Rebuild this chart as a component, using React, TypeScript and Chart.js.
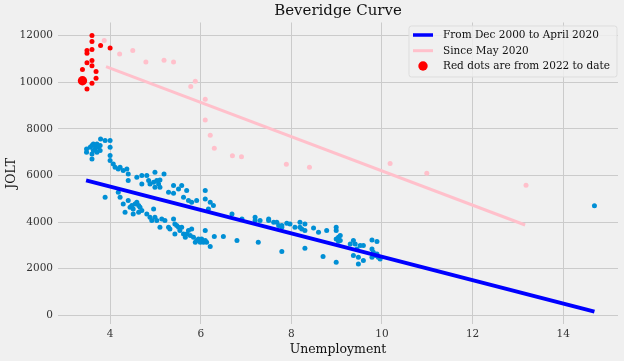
import React, { useEffect, useRef } from "react";
import { Chart, registerables } from "chart.js";

Chart.register(...registerables);

const FONT = '"DejaVu Serif", serif';

const chartTitle = "Beveridge Curve";
const xLabel = "Unemployment";
const yLabel = "JOLT";
const legendLabels = ["From Dec 2000 to April 2020", "Since May 2020", "Red dots are from 2022 to date"];

const xTicks = [4, 6, 8, 10, 12, 14];
const yTicks = [0, 2000, 4000, 6000, 8000, 10000, 12000];

// Dec 2000 - April 2020 (unemployment %, job openings thousands)
const blueDots: [number, number][] = [
  [3.48, 7139], [3.48, 6996], [3.56, 7210], [3.6, 7282], [3.63, 7353], [3.67, 7282], [3.71, 7353],
  [3.74, 7210], [3.78, 7067], [3.78, 7282], [3.67, 7139], [3.63, 7067], [3.6, 6924], [3.6, 6710],
  [3.71, 6996], [3.79, 7567], [3.89, 7496], [4.0, 7496], [4.0, 7210], [4.0, 6853], [4.0, 6638],
  [4.07, 6495], [4.11, 6352], [4.18, 6281], [4.22, 6352], [4.29, 6209], [4.37, 6281], [4.4, 6066],
  [4.4, 5780], [4.59, 5923], [4.7, 5995], [4.7, 5637], [4.81, 5995], [4.85, 5780], [4.88, 5637],
  [4.96, 5708], [4.99, 6138], [5.03, 5780], [5.07, 5637], [5.1, 5494], [4.99, 5494], [5.1, 5808],
  [5.19, 6066], [5.29, 5280], [5.4, 5566], [5.4, 5237], [5.51, 5423], [5.58, 5566], [5.69, 5351],
  [5.62, 5065], [5.73, 4922], [5.8, 4851], [5.91, 4922], [6.1, 5351], [6.1, 4994], [6.21, 4851],
  [6.28, 4708], [6.17, 4565], [6.69, 4350], [6.91, 4136], [7.2, 4207], [7.31, 4064],
  [3.89, 5065], [4.18, 5280], [4.22, 5065], [4.29, 4779], [4.33, 4422], [4.4, 4922], [4.44, 4636],
  [4.48, 4708], [4.51, 4565], [4.55, 4779], [4.59, 4851], [4.63, 4708], [4.66, 4636], [4.7, 4493],
  [4.63, 4422], [4.51, 4350], [4.81, 4350], [4.88, 4207], [4.92, 4064], [4.96, 4565], [4.99, 4207],
  [5.03, 4064], [5.1, 3778], [5.14, 4136], [5.21, 4064], [5.29, 3778], [5.32, 3707], [5.4, 4136],
  [5.43, 3921], [5.47, 3850], [5.51, 3778], [5.43, 3492], [5.54, 3635], [5.58, 3778], [5.62, 3492],
  [5.66, 3349], [5.69, 3492], [5.73, 3635], [5.77, 3421], [5.8, 3707], [5.84, 3349], [5.88, 3135],
  [5.91, 3206], [5.95, 3278], [5.99, 3135], [6.02, 3278], [6.06, 3135], [6.1, 3635], [6.1, 3206],
  [6.13, 3135], [6.21, 2949], [6.3, 3378], [6.5, 3378], [6.8, 3206], [7.27, 3135],
  [7.2, 4064], [7.5, 4136], [7.5, 4064], [7.61, 3993], [7.68, 3993], [7.72, 3850], [7.79, 3850],
  [7.79, 3778], [7.9, 3950], [7.97, 3921], [8.08, 3778], [8.19, 3993], [8.19, 3778], [8.23, 3707],
  [8.3, 3921], [8.3, 3635], [8.49, 3749], [8.6, 3564], [8.78, 3635], [8.99, 3778], [8.99, 3635],
  [8.99, 3278], [9.04, 3349], [9.08, 3421], [9.04, 3178], [9.08, 3206], [9.3, 3063], [9.37, 3206],
  [9.41, 3063], [9.45, 2848], [9.52, 2992], [9.59, 2992], [9.37, 2563], [9.48, 2491], [9.48, 2205],
  [9.59, 2348], [9.78, 3235], [9.89, 3163], [9.78, 2848], [9.81, 2706], [9.85, 2563], [9.89, 2634],
  [9.92, 2491], [9.96, 2420], [9.78, 2491], [7.79, 2734], [8.3, 2877], [8.7, 2520], [8.99, 2277],
  [14.69, 4703],
];

// Since May 2020
const pinkDots: [number, number][] = [
  [3.87, 11790], [4.21, 11210], [4.5, 11360], [4.79, 10870], [5.19, 10940], [5.4, 10870],
  [5.78, 9810], [5.88, 10040], [6.1, 9270], [6.1, 8380], [6.21, 7720], [6.3, 7170], [6.7, 6850],
  [6.9, 6800], [7.89, 6480], [8.4, 6350], [10.18, 6510], [10.99, 6090], [13.18, 5578],
];

// 2022 to date
const redDots: [number, number][] = [
  [3.6, 12000], [3.6, 11740], [3.49, 11360], [3.49, 11240], [3.6, 11400], [3.79, 11570],
  [4.0, 11470], [3.49, 10830], [3.6, 10930], [3.6, 10710], [3.39, 10540], [3.69, 10460],
  [3.69, 10170], [3.6, 9950], [3.49, 9710],
];
const latestDot: [number, number][] = [[3.39, 10060]];

// Linear fits
const fitPre: [number, number][] = [[3.47, 5790], [14.69, 160]];
const fitPost: [number, number][] = [[3.91, 10670], [13.16, 3876]];

const toXY = (arr: [number, number][]) => arr.map(([x, y]) => ({ x, y }));

export default function App() {
  const ref = useRef<HTMLCanvasElement | null>(null);

  useEffect(() => {
    if (!ref.current) return;
    const bgPlugin = {
      id: "bg",
      beforeDraw(chart: any) {
        const { ctx, width, height } = chart;
        ctx.save();
        ctx.fillStyle = "#f0f0f0";
        ctx.fillRect(0, 0, width, height);
        ctx.restore();
      },
    };
    const decoPlugin = {
      id: "deco",
      afterDraw(chart: any) {
        const { ctx, chartArea } = chart;
        ctx.save();
        // title
        ctx.fillStyle = "#111";
        ctx.font = `15px ${FONT}`;
        ctx.textAlign = "center";
        ctx.textBaseline = "middle";
        ctx.fillText(chartTitle, (chartArea.left + chartArea.right) / 2, 11.5);
        // legend box
        const bw = 208, bh = 51;
        const bx = chartArea.right - 1 - bw;
        const by = chartArea.top + 3.5;
        ctx.beginPath();
        const r = 2.5;
        ctx.moveTo(bx + r, by);
        ctx.arcTo(bx + bw, by, bx + bw, by + bh, r);
        ctx.arcTo(bx + bw, by + bh, bx, by + bh, r);
        ctx.arcTo(bx, by + bh, bx, by, r);
        ctx.arcTo(bx, by, bx + bw, by, r);
        ctx.closePath();
        ctx.fillStyle = "rgba(240,240,240,0.85)";
        ctx.fill();
        ctx.strokeStyle = "#dddddd";
        ctx.lineWidth = 1;
        ctx.stroke();
        const rows = [by + 9, by + 24.7, by + 40];
        const hx0 = bx + 4, hx1 = bx + 24, tx = bx + 34;
        ctx.lineCap = "butt";
        ctx.strokeStyle = "blue";
        ctx.lineWidth = 3.5;
        ctx.beginPath(); ctx.moveTo(hx0, rows[0]); ctx.lineTo(hx1, rows[0]); ctx.stroke();
        ctx.strokeStyle = "pink";
        ctx.lineWidth = 3;
        ctx.beginPath(); ctx.moveTo(hx0, rows[1]); ctx.lineTo(hx1, rows[1]); ctx.stroke();
        ctx.fillStyle = "red";
        ctx.beginPath(); ctx.arc((hx0 + hx1) / 2, rows[2], 4.7, 0, Math.PI * 2); ctx.fill();
        ctx.fillStyle = "#111";
        ctx.font = `10.5px ${FONT}`;
        ctx.textAlign = "left";
        ctx.textBaseline = "middle";
        legendLabels.forEach((t, i) => ctx.fillText(t, tx, rows[i] + 0.5));
        ctx.restore();
      },
    };

    const chart = new Chart(ref.current, {
      type: "scatter",
      data: {
        datasets: [
          { label: "latest", data: toXY(latestDot), backgroundColor: "red", borderWidth: 0, pointRadius: 4.7 },
          { label: "red", data: toXY(redDots), backgroundColor: "red", borderWidth: 0, pointRadius: 2.5 },
          { label: legendLabels[0], data: toXY(fitPre), showLine: true, borderColor: "blue", borderWidth: 4, pointRadius: 0 },
          { label: legendLabels[1], data: toXY(fitPost), showLine: true, borderColor: "pink", borderWidth: 3, pointRadius: 0 },
          { label: "pink", data: toXY(pinkDots), backgroundColor: "pink", borderWidth: 0, pointRadius: 2.5 },
          { label: "blue", data: toXY(blueDots), backgroundColor: "#008fd5", borderWidth: 0, pointRadius: 2.5 },
        ] as any,
      },
      options: {
        animation: false,
        responsive: false,
        maintainAspectRatio: false,
        layout: { padding: { top: 22.5, right: 6, left: 0, bottom: 0 } },
        plugins: { legend: { display: false }, tooltip: { enabled: false }, title: { display: false } },
        scales: {
          x: {
            type: "linear",
            min: 2.85,
            max: 15.21,
            afterBuildTicks: (s: any) => { s.ticks = xTicks.map((v) => ({ value: v })); },
            afterFit: (s: any) => { s.height = 37; },
            grid: { color: "#cbcbcb", lineWidth: 1, drawTicks: false },
            border: { display: false },
            ticks: { padding: 4, color: "#333", font: { family: FONT, size: 10.5 }, callback: (v: any) => String(v) },
            title: { display: true, text: xLabel, color: "#111", font: { family: FONT, size: 12.5 }, padding: { top: 0, bottom: 4 } },
          },
          y: {
            type: "linear",
            min: -370,
            max: 12560,
            afterBuildTicks: (s: any) => { s.ticks = yTicks.map((v) => ({ value: v })); },
            afterFit: (s: any) => { s.width = 58; },
            grid: { color: "#cbcbcb", lineWidth: 1, drawTicks: false },
            border: { display: false },
            ticks: { padding: 5, color: "#333", font: { family: FONT, size: 10.5 }, callback: (v: any) => String(v) },
            title: { display: true, text: yLabel, color: "#111", font: { family: FONT, size: 12.5 }, padding: { top: 4, bottom: 0 } },
          },
        },
      } as any,
      plugins: [bgPlugin, decoPlugin],
    });
    return () => chart.destroy();
  }, []);

  return (
    <div style={{ position: "absolute", left: 0, top: 0, width: 624, height: 361, background: "#f0f0f0" }}>
      <canvas ref={ref} width={624} height={361} style={{ display: "block", width: 624, height: 361 }} />
    </div>
  );
}
